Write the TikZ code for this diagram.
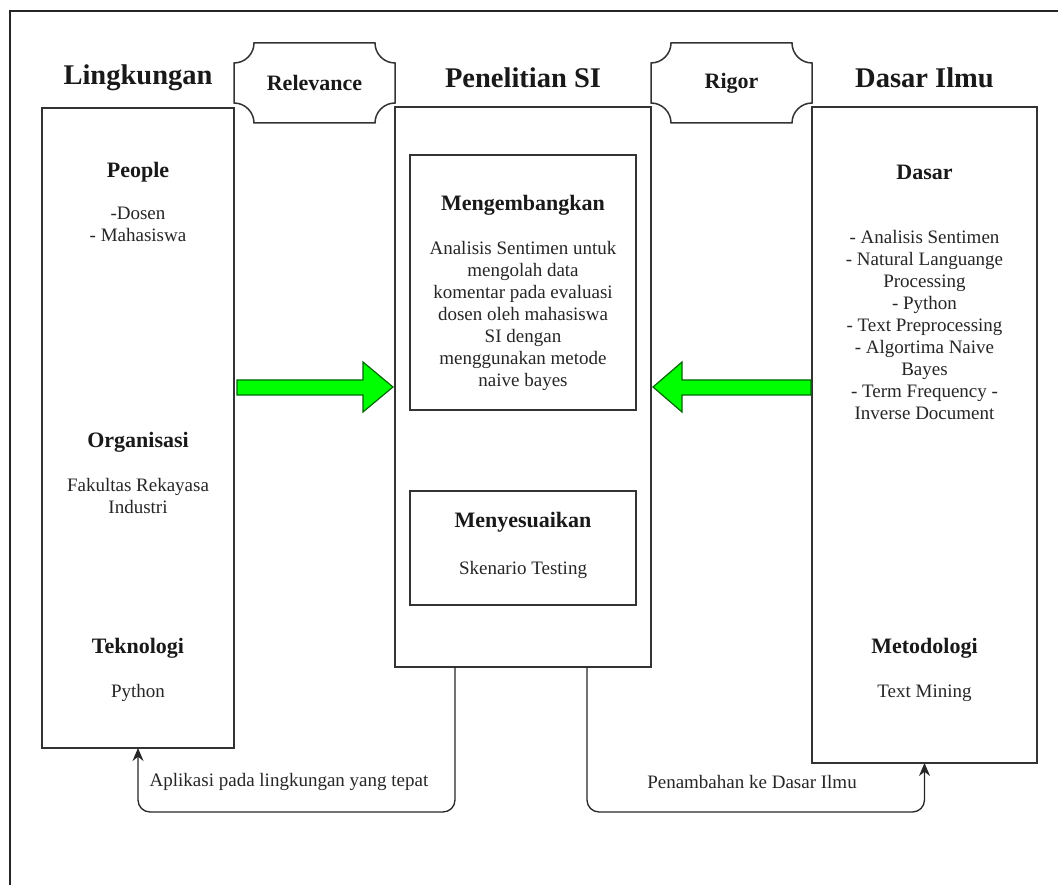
\documentclass[tikz,border=0pt]{standalone}
\usepackage{fontspec}
\setmainfont{Liberation Serif}
\usetikzlibrary{arrows.meta}

\tikzset{
  bingkai/.style={draw=black!85, line width=1.5pt},
  kotak/.style={draw=black!80, line width=1.5pt, fill=white, inner sep=0pt, outer sep=0pt},
  judul/.style={font=\fontsize{28.5}{32}\selectfont\bfseries, text=black!90},
  subjudul/.style={font=\fontsize{22}{26}\selectfont\bfseries, text=black!90},
  isi/.style={font=\fontsize{19}{22}\selectfont, align=center, text=black!85, inner sep=0pt},
  panahhijau/.style={draw=black!60!green, fill=green, line width=1.2pt, line join=miter},
  alur/.style={draw=black!85, line width=1.3pt, rounded corners=12pt, -{Stealth[length=13pt,width=11pt]}}
}

% bentuk tiket dengan sudut cekung
\newcommand{\tiket}[4]{%
  \draw[kotak] (#1+20,#2) -- (#3-20,#2)
    .. controls (#3-20,#2+11) and (#3-11,#2+20) .. (#3,#2+20) -- (#3,#4-20)
    .. controls (#3-11,#4-20) and (#3-20,#4-11) .. (#3-20,#4) -- (#1+20,#4)
    .. controls (#1+20,#4-11) and (#1+11,#4-20) .. (#1,#4-20) -- (#1,#2+20)
    .. controls (#1+11,#2+20) and (#1+20,#2+11) .. (#1+20,#2) -- cycle;}

\begin{document}
\begin{tikzpicture}[x=1pt,y=-1pt]
\useasboundingbox (0,0) rectangle (1058,885);
\draw[bingkai] (1058,11) -- (10,11) -- (10,885);

% kolom utama
\node[kotak, minimum width=192pt, minimum height=640pt] (lingkungan) at (138,428) {};
\node[kotak, minimum width=256pt, minimum height=560pt] (penelitian) at (523,387) {};
\node[kotak, minimum width=225pt, minimum height=656pt] (dasarilmu) at (924.5,435) {};
\node[judul] (jlingkungan) at (138,78) {Lingkungan};
\node[judul] (jpenelitian) at (523,78) {Penelitian SI};
\node[judul] (jdasarilmu) at (924.5,78) {Dasar Ilmu};

% relevance dan rigor
\tiket{234}{43}{395}{123}\node[subjudul] (relevance) at (314.5,83) {Relevance};
\tiket{651}{43}{812}{123}\node[subjudul] (rigor) at (731.5,83) {Rigor};

% isi lingkungan
\node[subjudul] (people) at (138,172) {People};
\node[isi] (tpeople) at (138,224) {-Dosen\\- Mahasiswa};
\node[subjudul] (organisasi) at (138,442) {Organisasi};
\node[isi] (torganisasi) at (138,496) {Fakultas Rekayasa\\Industri};
\node[subjudul] (teknologi) at (138,648) {Teknologi};
\node[isi] (tteknologi) at (138,693) {Python};

% isi penelitian
\node[kotak, minimum width=226pt, minimum height=255pt] (mengembangkan) at (523,282.5) {};
\node[subjudul] at (523,205) (jmengembangkan) {Mengembangkan};
\node[isi] (tmengembangkan) at (523,316) {Analisis Sentimen untuk\\mengolah data\\komentar pada evaluasi\\dosen oleh mahasiswa\\SI dengan\\menggunakan metode\\naive bayes};
\node[kotak, minimum width=226pt, minimum height=114pt] (menyesuaikan) at (523,548) {};
\node[subjudul] (jmenyesuaikan) at (523,522) {Menyesuaikan};
\node[isi] (tmenyesuaikan) at (523,570) {Skenario Testing};

% isi dasar ilmu
\node[subjudul] (dasar) at (924.5,172) {Dasar};
\node[isi] (tdasar) at (924.5,325) {- Analisis Sentimen\\- Natural Languange\\Processing\\- Python\\- Text Preprocessing\\- Algortima Naive\\Bayes\\- Term Frequency -\\Inverse Document};
\node[subjudul] (metodologi) at (924.5,648) {Metodologi};
\node[isi] (tmetodologi) at (924.5,693) {Text Mining};

% panah hijau
\draw[panahhijau] (237,380) -- (363,380) -- (363,362) -- (393,387) -- (363,412) -- (363,395) -- (237,395) -- cycle;
\draw[panahhijau] (811,380) -- (682,380) -- (682,362) -- (653,387) -- (682,412) -- (682,395) -- (811,395) -- cycle;

% alur balik
\coordinate (belok1) at (455,812);
\coordinate (belok2) at (587,812);
\draw[alur] (penelitian.south -| belok1) -- (belok1) -| (lingkungan.south);
\draw[alur] (penelitian.south -| belok2) -- (belok2) -| (dasarilmu.south);
\node[isi] (aplikasi) at (289,782) {Aplikasi pada lingkungan yang tepat};
\node[isi] (penambahan) at (752,782) {Penambahan ke Dasar Ilmu};
\end{tikzpicture}
\end{document}
